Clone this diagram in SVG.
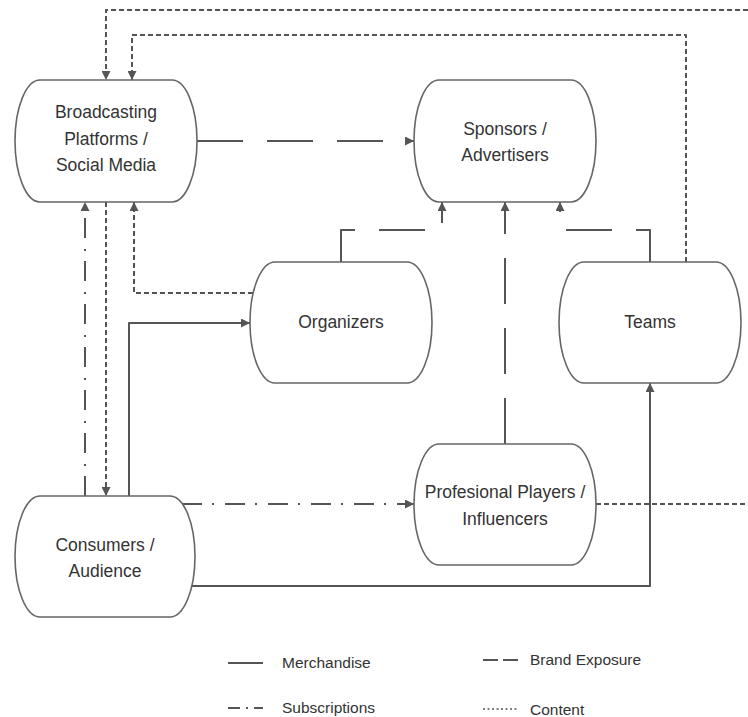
<svg xmlns="http://www.w3.org/2000/svg" width="748" height="717" viewBox="0 0 748 717">
<style>
.node{fill:#fff;stroke:#666;stroke-width:1.6}
.lbl{font-family:"Liberation Sans",Arial,sans-serif;font-size:17.5px;fill:#333;text-anchor:middle}
.leg{font-family:"Liberation Sans",Arial,sans-serif;font-size:15.5px;fill:#333}
.c{fill:none;stroke:#555;stroke-width:2;stroke-linejoin:round}
.content{stroke-dasharray:5 3}
.brand{stroke-dasharray:46 24}
.subs{stroke-dasharray:20 10 2 11}
.merch{}
</style>
<defs>
<marker id="ah" viewBox="0 0 10 10" refX="10" refY="5" markerWidth="10" markerHeight="9" markerUnits="userSpaceOnUse" orient="auto">
<path d="M0,0 L10,5 L0,10 z" fill="#555"/>
</marker>
</defs>
<rect width="748" height="717" fill="#fff"/>
<g id="connectors">
<path class="c content" d="M748,10 H106 V80" marker-end="url(#ah)"/>
<path class="c content" d="M686,262 V35 H132 V80" marker-end="url(#ah)"/>
<path class="c content" d="M106,202 V496" marker-end="url(#ah)"/>
<path class="c content" d="M253,293 H134 V202" marker-end="url(#ah)"/>
<path class="c content" d="M596,504 H748"/>
<path class="c brand" d="M197,141 H414" marker-end="url(#ah)"/>
<path class="c brand" d="M341,262 V230 H442 V202" marker-end="url(#ah)"/>
<path class="c brand" d="M650,262 V230 H560 V202" marker-end="url(#ah)"/>
<path class="c brand" d="M505,444 V202" marker-end="url(#ah)"/>
<path class="c subs" d="M85,496 V202" marker-end="url(#ah)"/>
<path class="c subs" d="M182,504 H414" marker-end="url(#ah)"/>
<path class="c merch" d="M129,496 V323 H250" marker-end="url(#ah)"/>
<path class="c merch" d="M192,586 H650 V383" marker-end="url(#ah)"/>
</g>
<g id="broadcasting">
<rect class="node" x="15" y="80" width="182" height="122" rx="25" ry="61"/>
<text class="lbl" x="106" y="118">Broadcasting</text>
<text class="lbl" x="106" y="145">Platforms /</text>
<text class="lbl" x="106" y="171">Social Media</text>
</g>
<g id="sponsors">
<rect class="node" x="414" y="80" width="182" height="122" rx="25" ry="61"/>
<text class="lbl" x="505" y="135">Sponsors /</text>
<text class="lbl" x="505" y="161">Advertisers</text>
</g>
<g id="organizers">
<rect class="node" x="250" y="262" width="182" height="121" rx="25" ry="60.5"/>
<text class="lbl" x="341" y="328">Organizers</text>
</g>
<g id="teams">
<rect class="node" x="559" y="262" width="182" height="121" rx="25" ry="60.5"/>
<text class="lbl" x="650" y="328">Teams</text>
</g>
<g id="players">
<rect class="node" x="414" y="444" width="182" height="121" rx="25" ry="60.5"/>
<text class="lbl" x="505" y="498">Profesional Players /</text>
<text class="lbl" x="505" y="525">Influencers</text>
</g>
<g id="consumers">
<rect class="node" x="15" y="496" width="180" height="121" rx="25" ry="60.5"/>
<text class="lbl" x="105" y="551">Consumers /</text>
<text class="lbl" x="105" y="577">Audience</text>
</g>
<g id="legend">
<line class="c" x1="228" y1="663" x2="263" y2="663"/>
<text class="leg" x="282" y="668">Merchandise</text>
<line class="c" x1="483" y1="660" x2="518" y2="660" stroke-dasharray="15 5"/>
<text class="leg" x="530" y="665">Brand Exposure</text>
<line class="c" x1="228" y1="708" x2="263" y2="708" stroke-dasharray="12 6 2 6"/>
<text class="leg" x="282" y="713">Subscriptions</text>
<line x1="483" y1="709" x2="518" y2="709" stroke="#555" stroke-width="1.5" stroke-dasharray="2 2.5"/>
<text class="leg" x="530" y="715">Content</text>
</g>
</svg>
